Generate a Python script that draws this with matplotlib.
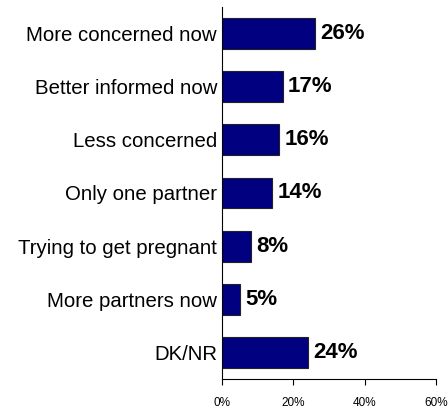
import matplotlib.pyplot as plt

categories = ['More concerned now', 'Better informed now', 'Less concerned',
              'Only one partner', 'Trying to get pregnant', 'More partners now', 'DK/NR']
values = [26, 17, 16, 14, 8, 5, 24]
xticks = [0, 20, 40, 60]

plt.rcParams['font.family'] = ['Liberation Sans', 'DejaVu Sans']

fig = plt.figure(figsize=(4.48, 4.11), dpi=100)
ax = fig.add_axes([0.4955, 0.078, 0.4775, 0.905])

pos = list(range(len(categories)))
ax.barh(pos, values, height=0.58, color='#000080', edgecolor='#222222', linewidth=0.8)
ax.set_ylim(len(categories) - 0.5, -0.5)
ax.set_xlim(0, 60)

for p, v in zip(pos, values):
    ax.text(v + 1.5, p, f'{v}%', va='center', ha='left', fontsize=16, fontweight='bold')

ax.set_yticks(pos)
ax.set_yticklabels(categories, fontsize=14.7)
ax.tick_params(axis='y', length=0, pad=3.5)
ax.set_xticks(xticks)
ax.set_xticklabels([f'{t}%' for t in xticks], fontsize=8.5)
ax.tick_params(axis='x', length=4, width=0.8, direction='out', pad=9)

for s in ['top', 'right']:
    ax.spines[s].set_visible(False)
for s in ['left', 'bottom']:
    ax.spines[s].set_linewidth(0.8)

fig.savefig('out.png', dpi=100)
